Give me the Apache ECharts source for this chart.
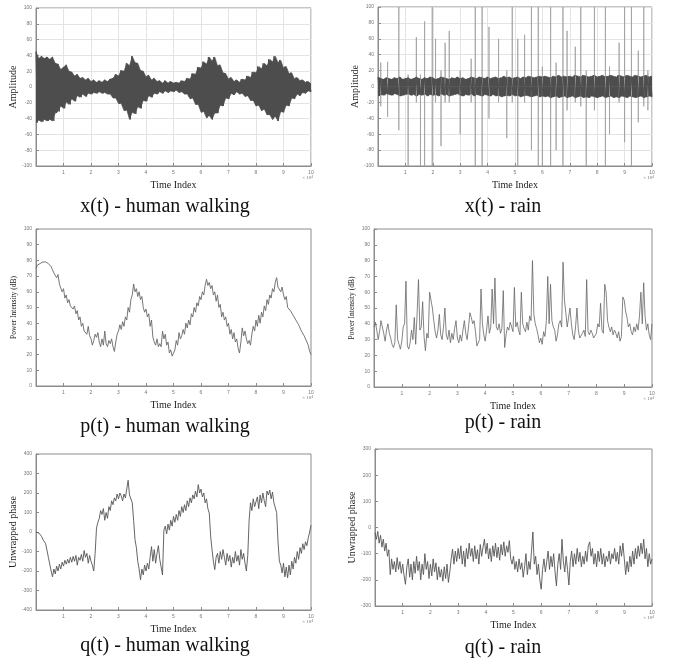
<!DOCTYPE html>
<html>
<head>
<meta charset="utf-8">
<title>Signals - human walking vs rain</title>
<script src="https://cdn.jsdelivr.net/npm/echarts@6/dist/echarts.min.js"></script>
<style>
  html, body { margin: 0; padding: 0; background: #fff; }
  #chart { width: 673px; height: 658px; }
</style>
</head>
<body>
<div id="chart"></div>
<script>
// x(t) human walking: upper / lower envelope of the dense waveform, every 0.1 (x10^4)
const walkUpper = [45, 36, 39, 36, 38, 35, 38, 30, 29, 22, 25, 28, 20, 19, 14, 16, 11, 12, 9, 11,
  7, 9, 6, 8, 6, 9, 7, 10, 11, 16, 14, 21, 20, 30, 27, 39, 31, 30, 21, 20,
  13, 15, 9, 11, 7, 8, 5, 8, 5, 7, 5, 6, 5, 8, 7, 11, 10, 17, 16, 25,
  24, 32, 29, 38, 33, 38, 27, 28, 18, 17, 10, 12, 7, 9, 6, 10, 9, 14, 12, 19,
  18, 26, 23, 30, 27, 35, 32, 39, 31, 34, 24, 26, 17, 18, 10, 12, 8, 9, 6, 7, 4];
const walkLower = [-45, -42, -44, -41, -43, -41, -43, -33, -31, -24, -27, -19, -22, -15, -18, -11, -13, -9, -12, -8,
  -9, -7, -8, -6, -8, -7, -9, -9, -14, -14, -21, -21, -30, -29, -41, -32, -34, -25, -27, -17,
  -18, -11, -13, -8, -9, -6, -8, -5, -7, -5, -6, -4, -7, -6, -9, -9, -15, -14, -22, -22,
  -32, -31, -39, -36, -41, -33, -33, -23, -24, -14, -15, -8, -10, -6, -9, -8, -12, -11, -17, -17,
  -24, -23, -30, -28, -35, -35, -41, -37, -43, -31, -32, -23, -24, -14, -15, -9, -11, -7, -8, -5, -6];

// x(t) rain: dense band plus isolated spikes
const rainUpper = [12, 10, 9, 11, 10, 9, 11, 10, 12, 9, 10, 11, 9, 10, 12, 10, 9, 11, 10, 12,
  11, 9, 10, 12, 11, 10, 9, 11, 10, 12, 10, 11, 9, 10, 12, 11, 10, 12, 11, 10,
  12, 10, 11, 12, 10, 11, 13, 11, 12, 10, 11, 12, 10, 12, 11, 13, 12, 11, 12, 13,
  12, 13, 12, 11, 13, 12, 14, 12, 13, 12, 13, 12, 14, 13, 12, 14, 13, 12, 13, 14,
  12, 13, 14, 12, 13, 14, 13, 12, 14, 13, 12, 14, 13, 12, 14, 13, 12, 13, 14, 12, 13];
const rainLower = [-12, -10, -11, -9, -10, -11, -9, -10, -12, -11, -10, -9, -11, -10, -12, -10, -11, -9, -12, -10,
  -11, -10, -12, -9, -11, -10, -12, -11, -10, -9, -11, -12, -10, -11, -9, -12, -10, -11, -12, -10,
  -11, -12, -10, -12, -11, -13, -12, -11, -12, -10, -12, -11, -13, -12, -11, -12, -13, -12, -11, -13,
  -12, -13, -12, -14, -13, -12, -14, -13, -12, -14, -13, -12, -14, -13, -12, -14, -13, -14, -12, -13,
  -14, -13, -12, -14, -13, -12, -14, -13, -14, -12, -13, -14, -12, -13, -14, -13, -12, -14, -13, -12, -13];
const spikeX = [0.1, 0.35, 0.76, 1.1, 1.4, 1.55, 1.7, 1.98, 2.1, 2.3, 2.45, 2.6, 3.0, 3.4, 3.55, 3.8, 4.05, 4.4, 4.7, 4.9,
  5.1, 5.35, 5.6, 5.85, 6.0, 6.3, 6.5, 6.75, 6.9, 7.2, 7.4, 7.6, 7.9, 8.3, 8.45, 8.8, 9.0, 9.25, 9.5, 9.7, 9.85];
const spikeHi = [30, 31, 100, 15, 62, 15, 82, 100, 60, 20, 55, 70, 20, 35, 100, 100, 75, 60, 20, 100,
  60, 65, 100, 100, 25, 100, 30, 100, 70, 50, 100, 20, 100, 100, 25, 55, 100, 100, 45, 100, 20];
const spikeLo = [-25, -38, -55, -100, -20, -100, -100, -100, -20, -75, -20, -20, -60, -20, -100, -100, -40, -20, -65, -20,
  -100, -20, -80, -100, -100, -100, -80, -100, -30, -20, -25, -100, -30, -100, -60, -20, -70, -100, -45, -25, -30];

// p(t) power intensity (dB), every 0.05 (x10^4)
const pWalk = [75, 77, 76, 78, 78, 79, 78, 79, 79, 78, 79, 76, 77, 72, 73, 69, 71, 65, 66, 60,
  62, 56, 58, 53, 55, 51, 52, 49, 51, 46, 48, 42, 44, 38, 40, 35, 36, 33, 38, 32,
  30, 26, 29, 33, 31, 34, 28, 25, 30, 26, 35, 27, 25, 29, 27, 30, 25, 22, 28, 33,
  35, 39, 36, 41, 38, 44, 42, 50, 47, 55, 58, 65, 60, 62, 57, 60, 55, 57, 50, 47,
  49, 44, 46, 38, 42, 31, 28, 26, 30, 25, 27, 25, 35, 30, 33, 26, 28, 21, 23, 19,
  21, 23, 29, 26, 34, 30, 32, 36, 33, 40, 37, 42, 39, 46, 44, 50, 47, 53, 51, 57,
  55, 60, 58, 64, 68, 64, 66, 62, 64, 58, 60, 54, 58, 50, 52, 44, 47, 42, 44, 38,
  40, 33, 36, 30, 34, 28, 30, 24, 21, 28, 37, 32, 35, 30, 27, 29, 26, 33, 38, 35,
  42, 38, 45, 40, 47, 44, 51, 48, 55, 52, 58, 56, 62, 60, 66, 69, 63, 62, 60, 63,
  58, 55, 57, 50, 51, 48, 49, 45, 46, 42, 43, 39, 40, 35, 36, 32, 31, 28, 26, 22, 20];
const pRain = [38, 41, 36, 30, 35, 42, 38, 34, 29, 36, 40, 34, 31, 27, 25, 28, 52, 30, 27, 24,
  29, 38, 40, 67, 26, 24, 28, 36, 30, 44, 27, 46, 68, 36, 38, 54, 32, 23, 34, 31,
  60, 59, 50, 42, 35, 31, 36, 46, 33, 30, 38, 50, 33, 30, 36, 28, 34, 30, 37, 42,
  31, 28, 33, 29, 36, 42, 34, 30, 38, 47, 44, 40, 42, 35, 26, 27, 30, 62, 40, 33,
  29, 36, 45, 34, 38, 62, 40, 69, 38, 36, 40, 34, 37, 61, 25, 33, 38, 36, 41, 38,
  35, 63, 38, 41, 36, 33, 60, 40, 37, 35, 41, 36, 45, 42, 80, 46, 40, 37, 33, 28,
  31, 27, 35, 32, 42, 70, 40, 65, 42, 38, 36, 29, 33, 40, 42, 38, 79, 55, 47, 38,
  44, 50, 40, 33, 30, 38, 50, 36, 31, 30, 34, 36, 32, 68, 35, 33, 36, 34, 31, 30,
  34, 40, 38, 53, 36, 34, 65, 60, 42, 38, 35, 38, 33, 36, 34, 31, 35, 29, 32, 57,
  55, 48, 44, 38, 40, 35, 33, 38, 35, 40, 36, 45, 60, 40, 66, 45, 36, 40, 33, 30, 40];

// q(t) unwrapped phase, every 0.05 (x10^4)
const qWalk = [0, -2, -5, -12, -22, -38, -45, -60, -58, -130, -140, -200, -230, -190, -215, -175, -200, -165, -190, -155,
  -175, -145, -165, -140, -160, -130, -155, -125, -150, -120, -170, -130, -145, -115, -150, -95, -130, -110, -160, -120,
  -150, -170, -200, -110, 20, 50, 70, 110, 90, 120, 60, 100, 70, 130, 110, 160, 140, 175, 160, 195,
  170, 200, 185, 160, 195, 175, 220, 265, 190, 200, 150, 60, -40, -80, -150, -190, -245, -190, -220, -170,
  -200, -160, -190, -130, -75, -150, -90, -160, -110, -70, -140, -180, -220, 10, 30, -10, 40, 10, 60, 30,
  80, 50, 90, 60, 110, 80, 130, 100, 140, 110, 160, 130, 175, 150, 190, 170, 210, 180, 243, 200,
  220, 180, 200, 150, 170, 120, 97, -20, -90, -150, -193, -130, -110, -160, -100, -140, -90, -130, -170, -110,
  -150, -120, -180, -130, -160, -100, -150, -120, -170, -90, -140, -110, -160, -200, -120, 60, 150, 110, 170, 130,
  140, 180, 120, 190, 150, 200, 160, 130, 210, 190, 215, 170, 205, 150, 160, 100, -50, -150, -170, -210,
  -160, -230, -180, -235, -170, -220, -150, -190, -130, -160, -100, -140, -80, -110, -60, -90, -50, -70, -30, 0, 35];
const qRain = [-20, -45, -15, -60, -30, -75, -45, -90, -60, -110, -85, -180, -120, -160, -130, -170, -115, -160, -130, -175,
  -140, -185, -217, -150, -120, -190, -140, -200, -130, -175, -110, -165, -130, -200, -140, -180, -100, -160, -130, -195,
  -140, -185, -120, -170, -135, -200, -150, -190, -160, -205, -150, -195, -140, -210, -170, -120, -83, -140, -90, -130,
  -80, -120, -70, -140, -90, -150, -80, -120, -60, -110, -80, -130, -70, -120, -85, -140, -65, -110, -75, -45,
  -100, -60, -120, -80, -130, -70, -110, -60, -115, -75, -125, -65, -105, -55, -110, -70, -95, -50, -120, -140,
  -110, -160, -130, -170, -120, -160, -135, -190, -150, -100, -180, -130, -160, -90, -17, -140, -110, -180, -140, -200,
  -236, -160, -120, -170, -130, -90, -160, -110, -150, -100, -170, -223, -140, -100, -160, -45, -130, -170, -110, -160,
  -220, -130, -90, -150, -100, -140, -80, -130, -95, -150, -110, -140, -90, -130, -70, -55, -110, -80, -140, -100,
  -150, -90, -130, -80, -140, -100, -150, -110, -130, -90, -140, -100, -120, -80, -130, -95, -140, -70, -110, -60,
  -120, -180, -130, -170, -110, -150, -90, -140, -80, -120, -70, -110, -60, -100, -45, -120, -80, -150, -100, -140, -120];

// axis tick settings per row
const xMax = 10;
const ampTicks = { min: -100, max: 100, interval: 20 };
const powTicks = { min: 0, max: 100, interval: 10 };
const phWalkTicks = { min: -400, max: 400, interval: 100 };
const phRainTicks = { min: -300, max: 300, interval: 100 };

const captions = ['x(t) - human walking', 'x(t) - rain', 'p(t) - human walking', 'p(t) - rain',
  'q(t) - human walking', 'q(t) - rain'];
const yNames = ['Amplitude', 'Amplitude', 'Power Intensity (dB)', 'Power Intensity (dB)',
  'Unwrapped phase', 'Unwrapped phase'];

// panel boxes in pixels
const boxes = [
  { left: 36, top: 8, width: 275, height: 158 },
  { left: 378, top: 7, width: 274, height: 159 },
  { left: 36, top: 229, width: 275, height: 157 },
  { left: 374, top: 229, width: 278, height: 158 },
  { left: 36, top: 454, width: 275, height: 156 },
  { left: 375, top: 449, width: 277, height: 157 }
];
const captionPos = [[165, 207], [503, 207], [165, 427], [503, 423], [165, 646], [503, 648]];

const SERIF = '"Liberation Serif", "DejaVu Serif", serif';
const AXIS_GREY = '#8c8c8c';
const WAVE = '#4d4d4d';

function toPairs(values) {
  const n = values.length;
  return values.map((v, i) => [i * xMax / (n - 1), v]);
}

function interleave(upper, lower) {
  const vals = [];
  for (let i = 0; i < upper.length; i++) {
    vals.push(upper[i], lower[i]);
  }
  return toPairs(vals);
}

function spikePairs(xs, hi, lo) {
  const out = [];
  for (let i = 0; i < xs.length; i++) {
    out.push([xs[i], 0], [xs[i], hi[i]], [xs[i], lo[i]], [xs[i], 0], null);
  }
  return out;
}

const chart = echarts.init(document.getElementById('chart'));

const grids = [], xAxes = [], yAxes = [], series = [], graphics = [];
const yTicks = [ampTicks, ampTicks, powTicks, powTicks, phWalkTicks, phRainTicks];

boxes.forEach((b, i) => {
  const topRow = i < 2;
  grids.push({ left: b.left, top: b.top, width: b.width, height: b.height,
    show: true, borderColor: AXIS_GREY, borderWidth: 1, backgroundColor: '#fff' });
  xAxes.push({
    type: 'value', gridIndex: i, min: 0, max: xMax, interval: 1,
    name: 'Time Index', nameLocation: 'middle', nameGap: 14,
    nameTextStyle: { fontFamily: SERIF, fontSize: 10, color: '#222' },
    axisLine: { onZero: false, lineStyle: { color: AXIS_GREY } },
    axisTick: { inside: true, length: 3, lineStyle: { color: AXIS_GREY } },
    axisLabel: { fontSize: 5, color: '#777', margin: 4,
      formatter: v => (v === 0 ? '' : String(v)) },
    splitLine: { show: topRow, lineStyle: { color: '#e3e3e3', width: 1 } }
  });
  yAxes.push({
    type: 'value', gridIndex: i,
    min: yTicks[i].min, max: yTicks[i].max, interval: yTicks[i].interval,
    name: yNames[i], nameLocation: 'middle', nameGap: 18,
    nameTextStyle: { fontFamily: SERIF, fontSize: i === 2 || i === 3 ? 7.5 : 10, color: '#222' },
    axisLine: { show: true, onZero: false, lineStyle: { color: AXIS_GREY } },
    axisTick: { show: true, inside: true, length: 3, lineStyle: { color: AXIS_GREY } },
    axisLabel: { fontSize: 5, color: '#777', margin: 4 },
    splitLine: { show: topRow, lineStyle: { color: '#e3e3e3', width: 1 } }
  });
  graphics.push({
    type: 'text', x: captionPos[i][0], y: captionPos[i][1],
    style: { text: captions[i], font: '20px ' + SERIF, fill: '#111',
      textAlign: 'center', textVerticalAlign: 'middle' }
  });
  graphics.push({
    type: 'text', x: b.left + b.width + 2, y: b.top + b.height + 12,
    style: { text: '× 10⁴', font: '5px ' + SERIF, fill: '#777',
      textAlign: 'right', textVerticalAlign: 'middle' }
  });
});

const lineBase = { type: 'line', showSymbol: false, symbol: 'none', animation: false, silent: true };

// filled envelope (area from the envelope line to zero) gives the solid look of a dense signal
function envelope(axis, values) {
  return Object.assign({}, lineBase, { xAxisIndex: axis, yAxisIndex: axis,
    data: toPairs(values), lineStyle: { color: WAVE, width: 0.6 },
    areaStyle: { color: WAVE, opacity: 1, origin: 0 } });
}

series.push(envelope(0, walkUpper), envelope(0, walkLower));
series.push(Object.assign({}, lineBase, { xAxisIndex: 0, yAxisIndex: 0,
  data: interleave(walkUpper, walkLower), lineStyle: { color: WAVE, width: 1 } }));

series.push(Object.assign({}, lineBase, { xAxisIndex: 1, yAxisIndex: 1,
  data: spikePairs(spikeX, spikeHi, spikeLo), connectNulls: false,
  lineStyle: { color: '#a0a0a0', width: 0.8 } }));
series.push(envelope(1, rainUpper), envelope(1, rainLower));
series.push(Object.assign({}, lineBase, { xAxisIndex: 1, yAxisIndex: 1,
  data: interleave(rainUpper, rainLower), lineStyle: { color: WAVE, width: 1 } }));

series.push(Object.assign({}, lineBase, { xAxisIndex: 2, yAxisIndex: 2,
  data: toPairs(pWalk), lineStyle: { color: '#666', width: 0.9 } }));
series.push(Object.assign({}, lineBase, { xAxisIndex: 3, yAxisIndex: 3,
  data: toPairs(pRain), lineStyle: { color: '#666', width: 0.8 } }));
series.push(Object.assign({}, lineBase, { xAxisIndex: 4, yAxisIndex: 4,
  data: toPairs(qWalk), lineStyle: { color: '#555', width: 0.9 } }));
series.push(Object.assign({}, lineBase, { xAxisIndex: 5, yAxisIndex: 5,
  data: toPairs(qRain), lineStyle: { color: '#555', width: 0.9 } }));

chart.setOption({
  backgroundColor: '#fff',
  animation: false,
  grid: grids,
  xAxis: xAxes,
  yAxis: yAxes,
  series: series,
  graphic: graphics
});
</script>
</body>
</html>
